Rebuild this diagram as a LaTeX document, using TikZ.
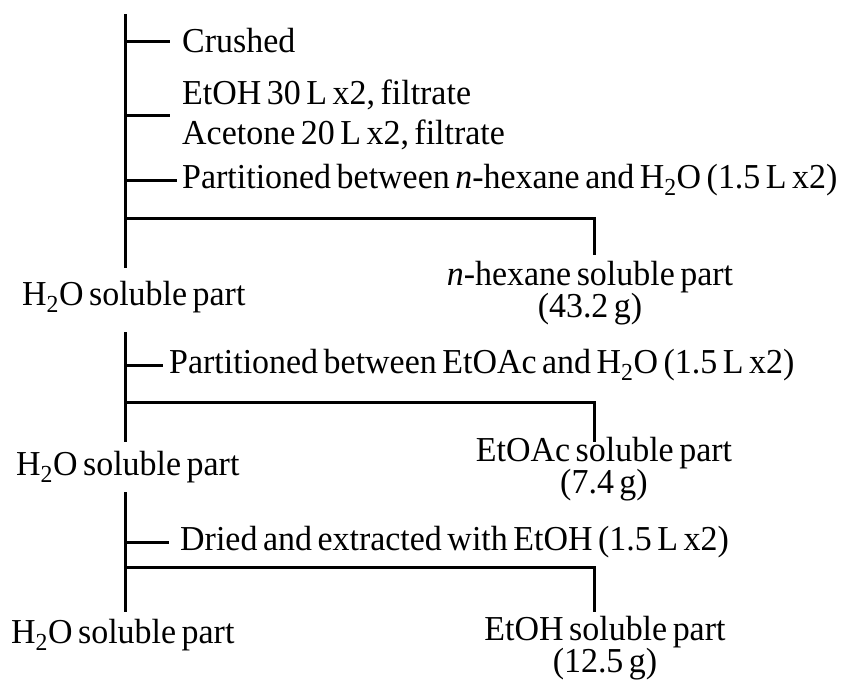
\documentclass[tikz,border=0pt]{standalone}
\usepackage{fontspec}
\setmainfont{Liberation Serif}[WordSpace=0.65, FakeStretch=0.97]
\usetikzlibrary{positioning, calc}

\begin{document}
\begin{tikzpicture}[x=1pt, y=-1pt, font=\fontsize{35}{32}\selectfont,
  line/.style={line width=3pt},
  txt/.style={inner sep=0pt, anchor=west, align=left},
  part/.style={inner sep=0pt, align=center}]
  \useasboundingbox (0,0) rectangle (850,688);
  % stems
  \foreach \n/\a/\b in {1/14/268, 2/332/442, 3/492/612} {
    \coordinate (top\n) at (125,\a);
    \coordinate (bot\n) at (125,\b);
    \draw[line] (top\n) -- (bot\n);
  }
  % steps
  \node[txt] (crushed) at (182,41) {Crushed};
  \node[txt] (extract) at (182,115) {EtOH 30 L x2, filtrate\\[8pt]Acetone 20 L x2, filtrate};
  \node[txt] (parthex) at (182,180) {Partitioned between \textit{n}-hexane and H\textsubscript{2}O (1.5 L x2)};
  \node[txt] (partac) at (169,365) {Partitioned between EtOAc and H\textsubscript{2}O (1.5 L x2)};
  \node[txt] (dried) at (180,542) {Dried and extracted with EtOH (1.5 L x2)};
  \foreach \s/\g in {crushed/12, extract/12, parthex/5, partac/6, dried/11}
    \draw[line, shorten >=\g pt] (\s.west -| top1) -- (\s.west);
  % fractions
  \node[txt] (waterA) at (22,297) {H\textsubscript{2}O soluble part};
  \node[txt] (waterB) at (16,467) {H\textsubscript{2}O soluble part};
  \node[txt] (waterC) at (11,635) {H\textsubscript{2}O soluble part};
  \node[part] (hexane) at (590,293) {\textit{n}-hexane soluble part\\(43.2 g)};
  \node[part] (etoac) at (604,469) {EtOAc soluble part\\(7.4 g)};
  \node[part] (etoh) at (605,648) {EtOH soluble part\\(12.5 g)};
  % splits
  \coordinate (splitA) at (125,218); \coordinate (dropA) at (594,255);
  \coordinate (splitB) at (125,402); \coordinate (dropB) at (594,442);
  \coordinate (splitC) at (125,567); \coordinate (dropC) at (594,612);
  \draw[line] (splitA) -| (dropA);
  \draw[line] (splitB) -| (dropB);
  \draw[line] (splitC) -| (dropC);
\end{tikzpicture}
\end{document}
